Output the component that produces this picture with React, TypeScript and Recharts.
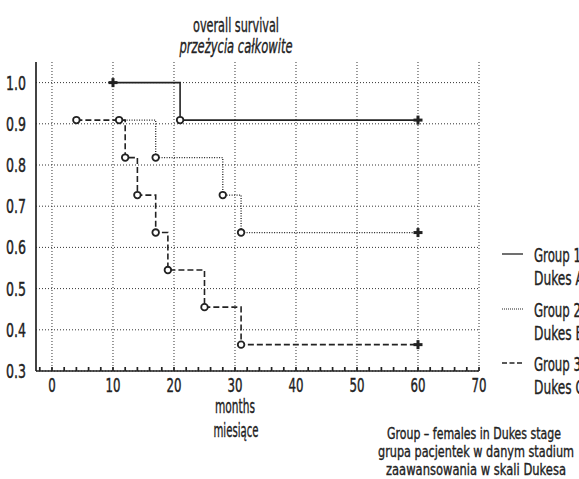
import React from 'react';
import { ComposedChart, Line, XAxis, YAxis, CartesianGrid } from 'recharts';

// Group 1 – Dukes A (solid)
const months1 = [10, 21, 60];
const surv1 = [1.0, 0.909, 0.909];
const marks1 = ['+', 'o', '+'];
// Group 2 – Dukes B (dotted)
const months2 = [11, 17, 28, 31, 60];
const surv2 = [0.909, 0.818, 0.727, 0.636, 0.636];
const marks2 = ['o', 'o', 'o', 'o', '+'];
// Group 3 – Dukes C (dashed)
const months3 = [4, 12, 14, 17, 19, 25, 31, 60];
const surv3 = [0.909, 0.818, 0.727, 0.636, 0.545, 0.455, 0.364, 0.364];
const marks3 = ['o', 'o', 'o', 'o', 'o', 'o', 'o', '+'];

const xMajorTicks = [0, 10, 20, 30, 40, 50, 60, 70];
const xMinorTicks = [-2, 0, 2, 4, 6, 8, 10, 12, 14, 16, 18, 20, 22, 24, 26, 28, 30, 32, 34, 36, 38, 40, 42, 44, 46, 48, 50, 52, 54, 56, 58, 60, 62, 64, 66, 68, 70];
const yTicks = [0.3, 0.4, 0.5, 0.6, 0.7, 0.8, 0.9, 1.0];

const build = (m: number[], s: number[], k: string[]) => m.map((v, i) => ({ m: v, s: s[i], mark: k[i] }));
const data1 = build(months1, surv1, marks1);
const data2 = build(months2, surv2, marks2);
const data3 = build(months3, surv3, marks3);

const FONT = "'Liberation Sans Narrow', 'DejaVu Sans Condensed', 'Roboto Condensed', sans-serif";
const INK = '#222';

const Marker = (props: any) => {
  const { cx, cy, payload } = props;
  if (cx == null || cy == null) return null;
  if (payload.mark === 'o') {
    return <circle key={`o${cx}-${cy}`} cx={cx} cy={cy} r={3.3} fill="#fff" stroke={INK} strokeWidth={1.8} />;
  }
  return (
    <g key={`p${cx}-${cy}`}>
      <rect x={cx - 4.5} y={cy - 1.5} width={9} height={3} fill={INK} />
      <rect x={cx - 1.5} y={cy - 4.5} width={3} height={9} fill={INK} />
    </g>
  );
};

const XTick = (props: any) => {
  const { x, y, payload } = props;
  if (!xMajorTicks.includes(payload.value)) return null;
  const label = String(payload.value);
  return (
    <text x={x} y={y} textAnchor="middle" dominantBaseline="hanging" fontFamily={FONT} fontSize={19} fill={INK} stroke={INK} strokeWidth={0.4}
      textLength={label.length * 7.5} lengthAdjust="spacingAndGlyphs">
      {label}
    </text>
  );
};

const YTick = (props: any) => {
  const { x, y, payload } = props;
  return (
    <text x={x} y={y} textAnchor="end" dominantBaseline="central" fontFamily={FONT} fontSize={19} fill={INK} stroke={INK} strokeWidth={0.4}
      textLength={20} lengthAdjust="spacingAndGlyphs">
      {Number(payload.value).toFixed(1)}
    </text>
  );
};

const T = (p: { x: number; y: number; len?: number; anchor?: string; italic?: boolean; size?: number; children: React.ReactNode }) => (
  <text
    x={p.x}
    y={p.y}
    textAnchor={(p.anchor as any) || 'middle'}
    dominantBaseline="central"
    fontFamily={FONT}
    fontSize={p.size || 19}
    fontStyle={p.italic ? 'italic' : 'normal'}
    fill={INK}
    stroke={INK}
    strokeWidth={0.35}
    textLength={p.len}
    lengthAdjust={p.len ? 'spacingAndGlyphs' : undefined}
  >
    {p.children}
  </text>
);

export default function App() {
  return (
    <div style={{ position: 'absolute', left: 0, top: 0, width: 579, height: 479, overflow: 'hidden', background: '#fff' }}>
      <ComposedChart width={579} height={479} margin={{ top: 62, right: 100, bottom: 78, left: 0 }}>
        <CartesianGrid
          stroke="#333"
          strokeDasharray="1 2"
          strokeWidth={1}
          xAxisId="b"
          yAxisId="l"
          verticalValues={xMajorTicks}
          horizontalValues={yTicks}
        />
        <XAxis
          xAxisId="b"
          dataKey="m"
          type="number"
          domain={[-2.62, 70]}
          ticks={xMinorTicks}
          allowDataOverflow
          height={30}
          stroke={INK}
          strokeWidth={1.7}
          tickSize={-4}
          tickMargin={11}
          tick={<XTick />}
          interval={0}
        />
        <XAxis
          xAxisId="t"
          orientation="top"
          type="number"
          domain={[-2.62, 70]}
          ticks={xMinorTicks}
          allowDataOverflow
          height={0}
          stroke={INK}
          strokeWidth={1.7}
          tickSize={-4}
          tick={false}
          interval={0}
        />
        <YAxis
          yAxisId="l"
          type="number"
          domain={[0.3, 1.05]}
          ticks={yTicks}
          allowDataOverflow
          width={36}
          stroke={INK}
          strokeWidth={1.7}
          tickLine={false}
          tickMargin={4}
          tick={<YTick />}
          interval={0}
        />
        <YAxis
          yAxisId="r"
          orientation="right"
          type="number"
          domain={[0.3, 1.05]}
          ticks={yTicks}
          width={0}
          stroke={INK}
          strokeWidth={1.7}
          tickLine={false}
          tick={false}
        />
        <Line xAxisId="b" yAxisId="l" data={data3} dataKey="s" type="stepAfter" stroke={INK} strokeWidth={1.6} strokeDasharray="6 3" dot={<Marker />} activeDot={false} isAnimationActive={false} />
        <Line xAxisId="b" yAxisId="l" data={data2} dataKey="s" type="stepAfter" stroke={INK} strokeWidth={1.3} strokeDasharray="1 1.5" dot={<Marker />} activeDot={false} isAnimationActive={false} />
        <Line xAxisId="b" yAxisId="l" data={data1} dataKey="s" type="stepAfter" stroke={INK} strokeWidth={1.6} dot={<Marker />} activeDot={false} isAnimationActive={false} />
      </ComposedChart>
      <svg width={579} height={479} style={{ position: 'absolute', left: 0, top: 0, pointerEvents: 'none' }}>
        <T x={236} y={25} len={86}>overall survival</T>
        <T x={236} y={46} len={113} italic>przeżycia całkowite</T>
        <T x={235} y={406} len={40}>months</T>
        <T x={236} y={430} len={45}>miesiące</T>
        <T x={474} y={434} len={174} size={15.5}>Group – females in Dukes stage</T>
        <T x={476} y={452} len={196} size={15.5}>grupa pacjentek w danym stadium</T>
        <T x={476} y={470} len={180} size={15.5}>zaawansowania w skali Dukesa</T>

        <line x1={502} x2={523} y1={254} y2={254} stroke={INK} strokeWidth={1.3} />
        <T x={534} y={255} len={47} anchor="start">Group 1</T>
        <T x={534} y={278} len={50} anchor="start">Dukes A</T>

        <line x1={502} x2={523} y1={309} y2={309} stroke={INK} strokeWidth={1.2} strokeDasharray="1 1" />
        <T x={534} y={310} len={47} anchor="start">Group 2</T>
        <T x={534} y={333} len={50} anchor="start">Dukes B</T>

        <line x1={502} x2={523} y1={363} y2={363} stroke={INK} strokeWidth={1.3} strokeDasharray="5 2.5" />
        <T x={534} y={364} len={47} anchor="start">Group 3</T>
        <T x={534} y={387} len={50} anchor="start">Dukes C</T>
      </svg>
    </div>
  );
}
